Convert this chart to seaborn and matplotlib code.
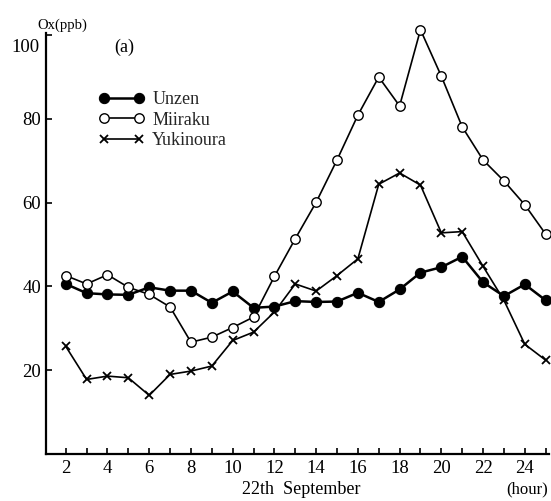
import matplotlib
matplotlib.use("Agg")
import matplotlib.pyplot as plt
import seaborn as sns
import pandas as pd
import numpy as np

hours = [2, 3, 4, 5, 6, 7, 8, 9, 10, 11, 12, 13, 14, 15, 16, 17, 18, 19, 20, 21, 22, 23, 24, 25]
unzen = [40.6, 38.4, 38.1, 38.0, 39.8, 39.0, 39.0, 36.1, 38.8, 34.9, 35.2, 36.5, 36.3, 36.4,
         38.5, 36.3, 39.3, 43.3, 44.6, 47.1, 41.0, 37.7, 40.5, 36.7]
miiraku = [42.6, 40.6, 42.8, 39.8, 38.1, 35.1, 26.7, 27.9, 30.2, 32.7, 42.4, 51.4, 60.1, 70.2,
           80.9, 90.0, 83.1, 101.3, 90.2, 78.1, 70.2, 65.2, 59.5, 52.5]
yukinoura = [25.7, 17.8, 18.6, 18.2, 14.0, 19.0, 19.8, 21.0, 27.1, 29.1, 33.9, 40.6, 38.9, 42.6,
             46.6, 64.4, 67.1, 64.2, 52.8, 53.1, 44.8, 36.7, 26.2, 22.4]
station_names = ["Unzen", "Miiraku", "Yukinoura"]
x_ticks = [2, 4, 6, 8, 10, 12, 14, 16, 18, 20, 22, 24]
y_ticks = [20, 40, 60, 80, 100]

sns.set_theme(style="ticks")
plt.rcParams["font.family"] = ["Liberation Serif", "DejaVu Serif"]

df = pd.DataFrame({"hour": hours * 3,
                   "ox": unzen + miiraku + yukinoura,
                   "station": [station_names[0]] * len(hours) + [station_names[1]] * len(hours)
                              + [station_names[2]] * len(hours)})

fig = plt.figure(figsize=(5.51, 5.01), dpi=100)
ax = fig.add_axes([0.0826, 0.0938, 0.9134, 0.8402])

styles = {
    "Unzen": dict(marker="o", markersize=7.4, markerfacecolor="black", markeredgecolor="black",
                  linewidth=1.8),
    "Miiraku": dict(marker="o", markersize=6.8, markerfacecolor="white", markeredgecolor="black",
                    markeredgewidth=1.0, linewidth=1.2),
    "Yukinoura": dict(marker="x", markersize=5.5, markeredgecolor="black", markeredgewidth=1.3,
                      linewidth=1.2),
}
for name in station_names:
    sub = df[df["station"] == name]
    sns.lineplot(data=sub, x="hour", y="ox", ax=ax, color="black", label=name,
                 clip_on=False, zorder=3, **styles[name])

ax.set_xlim(1.03, 25.15)
ax.set_ylim(0, 100.5)
ax.set_xticks(x_ticks)
ax.set_xticks(range(3, 26, 2), minor=True)
ax.set_yticks(y_ticks)
ax.set_yticklabels(["20", "40", "60", "80", ""])
ax.tick_params(axis="both", which="both", direction="in", length=4, width=1.2,
               labelsize=13.5, color="black")
ax.tick_params(axis="x", pad=4)
ax.tick_params(axis="y", pad=3)
for lab in ax.get_xticklabels() + ax.get_yticklabels():
    lab.set_color("black")

for side in ["top", "right"]:
    ax.spines[side].set_visible(False)
for side in ["left", "bottom"]:
    ax.spines[side].set_linewidth(1.6)
    ax.spines[side].set_color("black")

ax.set_xlabel("")
ax.set_ylabel("")

# y-axis caption, top label and panel tag
fig.text(37 / 551, 1 - 25 / 501, "Ox(ppb)", fontsize=10.5, ha="left", va="center", color="black")
fig.text(40 / 551, 1 - 47 / 501, "100", fontsize=13.5, ha="right", va="center", color="black")
fig.text(114 / 551, 1 - 47 / 501, "(a)", fontsize=13, ha="left", va="center", color="black")
fig.text(301 / 551, 1 - 489 / 501, "22th  September", fontsize=13, ha="center", va="center",
         color="black")
fig.text(548 / 551, 1 - 489 / 501, "(hour)", fontsize=12, ha="right", va="center", color="black")

leg = ax.legend(loc="upper left", bbox_to_anchor=(99 / 551, 1 - 91 / 501),
                bbox_transform=fig.transFigure, frameon=False, numpoints=2,
                handlelength=2.5, handletextpad=0.45, labelspacing=0.2, fontsize=13,
                borderaxespad=0, borderpad=0)

fig.savefig("out.png", dpi=100, facecolor="white")
